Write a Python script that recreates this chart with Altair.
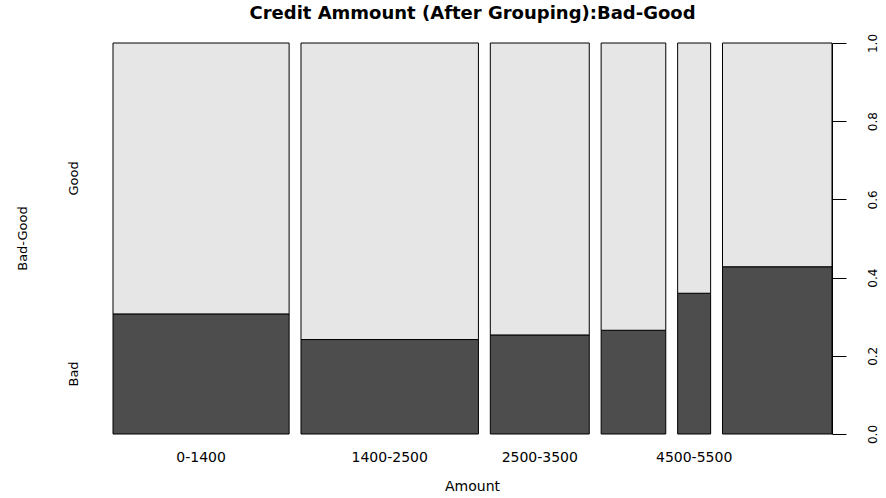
import altair as alt
import pandas as pd

# Credit amount groups (German credit data, 1000 applicants)
groups = ["0-1400", "1400-2500", "2500-3500", "3500-4500", "4500-5500", ">5500"]
group_counts = [267, 269, 150, 98, 50, 166]
bad_counts = [82, 65, 38, 26, 18, 71]
# R's spineplot drops tick labels that would overlap
label_shown = [True, True, True, False, True, False]
y_ticks = [0.0, 0.2, 0.4, 0.6, 0.8, 1.0]

TITLE = "Credit Ammount (After Grouping):Bad-Good"
X_TITLE = "Amount"
Y_TITLE = "Bad-Good"
GAP = 0.018  # space between spines, as a share of all applicants

DARK = "#4d4d4d"
LIGHT = "#e6e6e6"

W, H = 719, 391

# spine geometry: widths proportional to group size, heights split by status
total = sum(group_counts)
rows, labels = [], []
start = 0.0
for i, (g, n, b) in enumerate(zip(groups, group_counts, bad_counts)):
    w = n / total
    frac = b / n
    rows.append({"group": g, "status": "Bad", "x0": start, "x1": start + w, "y0": 0.0, "y1": frac})
    rows.append({"group": g, "status": "Good", "x0": start, "x1": start + w, "y0": frac, "y1": 1.0})
    if label_shown[i]:
        labels.append({"label": g, "xc": start + w / 2})
    start += w + GAP
x_max = start - GAP

spines = pd.DataFrame(rows)
xlabels = pd.DataFrame(labels)

first_bad = bad_counts[0] / group_counts[0]
status_labels = pd.DataFrame({
    "label": ["Bad", "Good"],
    "yc": [first_bad / 2, (first_bad + 1) / 2],
})

x_scale = alt.Scale(domain=[0, x_max], nice=False, zero=False)
y_scale = alt.Scale(domain=[0, 1], nice=False)
y_axis = alt.Axis(
    orient="right", values=y_ticks, format=".1f", title=None,
    labelAngle=270, labelAlign="center", labelBaseline="middle",
    labelPadding=26, tickSize=14, grid=False,
)

bars = alt.Chart(spines).mark_rect(stroke="black", strokeWidth=1).encode(
    x=alt.X("x0:Q", scale=x_scale, axis=None),
    x2="x1:Q",
    y=alt.Y("y0:Q", scale=y_scale, axis=y_axis),
    y2="y1:Q",
    color=alt.Color("status:N", scale=alt.Scale(domain=["Bad", "Good"], range=[DARK, LIGHT]), legend=None),
)

tick_text = alt.Chart(xlabels).mark_text(
    font="DejaVu Sans", fontSize=14, color="black", baseline="middle"
).encode(
    x=alt.X("xc:Q", scale=x_scale, axis=None),
    y=alt.value(415),
    text="label:N",
)

status_text = alt.Chart(status_labels).mark_text(
    font="DejaVu Sans", fontSize=13, color="black", angle=270,
    align="center", baseline="middle",
).encode(
    x=alt.value(-39),
    y=alt.Y("yc:Q", scale=y_scale, axis=y_axis),
    text="label:N",
)

def free_text(txt, x, y, size, weight="normal", angle=0):
    return alt.Chart(pd.DataFrame({"t": [txt]})).mark_text(
        font="DejaVu Sans", fontSize=size, fontWeight=weight, color="black",
        angle=angle, align="center", baseline="middle",
    ).encode(x=alt.value(x), y=alt.value(y), text="t:N")

title_text = free_text(TITLE, W / 2, -29, 18, weight="bold")
xtitle_text = free_text(X_TITLE, W / 2, 444, 14)
ytitle_text = free_text(Y_TITLE, -90, H / 2, 13, angle=270)

chart = alt.layer(
    bars, tick_text, status_text, title_text, xtitle_text, ytitle_text
).properties(
    width=W, height=H,
    autosize=alt.AutoSizeParams(type="none"),
    padding={"left": 113, "top": 43, "right": 54, "bottom": 64},
    background="white",
).configure_view(stroke=None).configure_axis(
    domainColor="black", tickColor="black", labelColor="black",
    labelFont="DejaVu Sans", labelFontSize=12,
)

chart.save("out.html", embed_options={"renderer": "svg", "actions": False})
